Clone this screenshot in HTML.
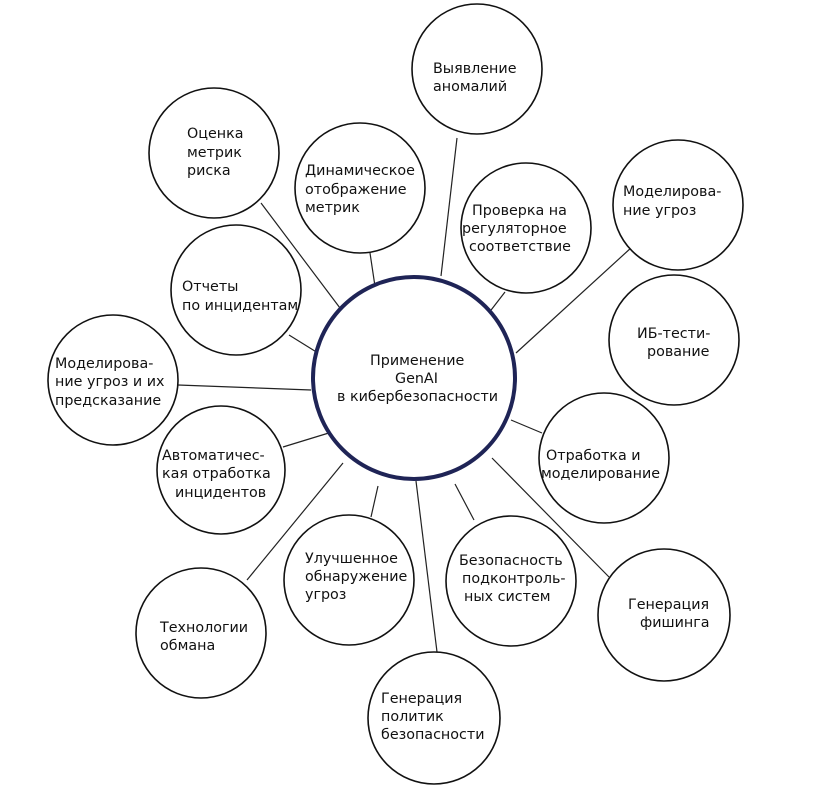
<!DOCTYPE html>
<html><head><meta charset="utf-8"><style>
html,body{margin:0;padding:0;background:#fff;}
svg{display:block;}
text{font-family:"DejaVu Sans","Liberation Sans",sans-serif;font-size:14.3px;fill:#111;}
</style></head><body>
<svg width="813" height="794" viewBox="0 0 813 794" xmlns="http://www.w3.org/2000/svg">
<g stroke="#222" stroke-width="1.2">
<line x1="457" y1="138" x2="441" y2="276"/>
<line x1="261" y1="203" x2="343" y2="312"/>
<line x1="370" y1="253" x2="376" y2="293"/>
<line x1="505" y1="292" x2="488" y2="314"/>
<line x1="632" y1="247" x2="516" y2="353"/>
<line x1="289" y1="335" x2="318" y2="353"/>
<line x1="178" y1="385" x2="311" y2="390"/>
<line x1="283" y1="447" x2="332" y2="432"/>
<line x1="542" y1="433" x2="511" y2="420"/>
<line x1="371" y1="517" x2="378" y2="486"/>
<line x1="474" y1="520" x2="455" y2="484"/>
<line x1="247" y1="580" x2="343" y2="463"/>
<line x1="609" y1="577" x2="492" y2="458"/>
<line x1="437" y1="652" x2="416" y2="481"/>
</g>
<g fill="#fff" stroke="#111" stroke-width="1.6">
<circle cx="477" cy="69" r="65"/>
<circle cx="214" cy="153" r="65"/>
<circle cx="360" cy="188" r="65"/>
<circle cx="526" cy="228" r="65"/>
<circle cx="678" cy="205" r="65"/>
<circle cx="674" cy="340" r="65"/>
<circle cx="236" cy="290" r="65"/>
<circle cx="113" cy="380" r="65"/>
<circle cx="221" cy="470" r="64"/>
<circle cx="604" cy="458" r="65"/>
<circle cx="349" cy="580" r="65"/>
<circle cx="511" cy="581" r="65"/>
<circle cx="201" cy="633" r="65"/>
<circle cx="664" cy="615" r="66"/>
<circle cx="434" cy="718" r="66"/>
</g>
<circle cx="414" cy="378" r="101" fill="#fff" stroke="#1f2456" stroke-width="4"/>
<text x="433" y="73">Выявление</text><text x="433" y="91">аномалий</text>
<text x="187" y="138">Оценка</text><text x="187" y="157">метрик</text><text x="187" y="175">риска</text>
<text x="305" y="175">Динамическое</text><text x="305" y="194">отображение</text><text x="305" y="212">метрик</text>
<text x="472" y="215">Проверка на</text><text x="462" y="233">регуляторное</text><text x="469" y="251">соответствие</text>
<text x="623" y="196">Моделирова-</text><text x="623" y="215">ние угроз</text>
<text x="637" y="338">ИБ-тести-</text><text x="647" y="356">рование</text>
<text x="182" y="291">Отчеты</text><text x="182" y="310">по инцидентам</text>
<text x="55" y="368">Моделирова-</text><text x="55" y="386">ние угроз и их</text><text x="55" y="405">предсказание</text>
<text x="370" y="365">Применение</text><text x="395" y="383">GenAI</text><text x="337" y="401">в кибербезопасности</text>
<text x="162" y="460">Автоматичес-</text><text x="162" y="478">кая отработка</text><text x="175" y="497">инцидентов</text>
<text x="546" y="460">Отработка и</text><text x="541" y="478">моделирование</text>
<text x="305" y="563">Улучшенное</text><text x="305" y="581">обнаружение</text><text x="305" y="599">угроз</text>
<text x="459" y="565">Безопасность</text><text x="462" y="583">подконтроль-</text><text x="464" y="601">ных систем</text>
<text x="160" y="632">Технологии</text><text x="160" y="650">обмана</text>
<text x="628" y="609">Генерация</text><text x="640" y="627">фишинга</text>
<text x="381" y="703">Генерация</text><text x="381" y="721">политик</text><text x="381" y="739">безопасности</text>
</svg>
</body></html>
